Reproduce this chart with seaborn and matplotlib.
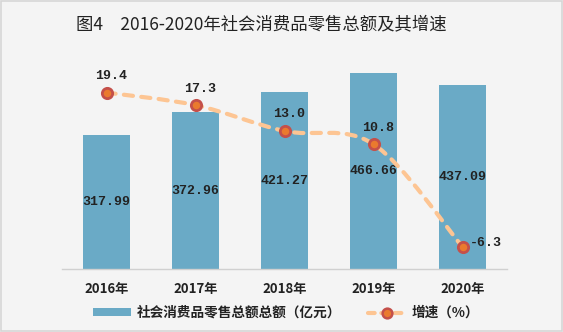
import numpy as np
import matplotlib
matplotlib.use("Agg")
import matplotlib.pyplot as plt
from matplotlib.path import Path
from matplotlib.patches import PathPatch, Patch, Rectangle
from matplotlib.lines import Line2D
import seaborn as sns

# ---- data ----
years = ["2016年", "2017年", "2018年", "2019年", "2020年"]
sales = [317.99, 372.96, 421.27, 466.66, 437.09]
growth = [19.4, 17.3, 13.0, 10.8, -6.3]
title = "图4　2016-2020年社会消费品零售总额及其增速"
bar_label = "社会消费品零售总额总额（亿元）"
line_label = "增速（%）"

sns.set_theme(style="white")
plt.rcParams["font.family"] = ["Noto Sans CJK SC", "DejaVu Sans"]

BG = "#f4f4f4"
BAR = "#6aaac6"
LINE = "#fdc593"
MFACE = "#ea7a2e"
MEDGE = "#c4504a"
TXT = "#222222"

fig = plt.figure(figsize=(5.63, 3.32), dpi=100)
fig.patch.set_facecolor(BG)
fig.patches.append(Rectangle((0.002, 0.003), 0.996, 0.994, transform=fig.transFigure,
                             fill=False, edgecolor="#d6d6d6", linewidth=1.2))

ax = fig.add_axes([62 / 563, 1 - 269 / 332, 445 / 563, 210 / 332])
ax.set_facecolor(BG)
sns.barplot(x=years, y=sales, ax=ax, color=BAR, width=0.52, saturation=1,
            edgecolor="none", linewidth=0)
ax.set_ylim(0, 500)
ax.set_xlim(-0.5, 4.5)
ax.set_xlabel("")
ax.set_ylabel("")
ax.set_yticks([])
for s in ["top", "left", "right"]:
    ax.spines[s].set_visible(False)
ax.spines["bottom"].set_color("#d0d0d0")
ax.spines["bottom"].set_linewidth(1.0)
ax.tick_params(axis="x", length=0, pad=9)
for lab in ax.get_xticklabels():
    lab.set_fontsize(9.5)
    lab.set_fontweight("bold")
    lab.set_color(TXT)

for i, v in enumerate(sales):
    ax.text(i, v / 2, f"{v:.2f}", ha="center", va="center", fontsize=9.5,
            fontweight="bold", family=["Liberation Mono", "DejaVu Sans Mono"], color=TXT)

# ---- growth line (smoothed, Catmull-Rom via Bezier) ----
ax2 = ax.twinx()
ax2.set_ylim(-10, 25)
ax2.set_yticks([])
for s in ax2.spines.values():
    s.set_visible(False)

xs = np.arange(len(growth), dtype=float)
ys = np.array(growth, dtype=float)
pts = np.column_stack([xs, ys])
verts = [tuple(pts[0])]
codes = [Path.MOVETO]
n = len(pts)
for i in range(n - 1):
    p0 = pts[max(i - 1, 0)]
    p1 = pts[i]
    p2 = pts[i + 1]
    p3 = pts[min(i + 2, n - 1)]
    c1 = p1 + (p2 - p0) / 6.0
    c2 = p2 - (p3 - p1) / 6.0
    verts += [tuple(c1), tuple(c2), tuple(p2)]
    codes += [Path.CURVE4] * 3
patch = PathPatch(Path(verts, codes), facecolor="none", edgecolor=LINE, linewidth=3.0,
                  linestyle=(0, (2.2, 2.0)), capstyle="round", zorder=3)
ax2.add_patch(patch)

sns.scatterplot(x=xs, y=ys, ax=ax2, s=55, color=MFACE, edgecolor=MEDGE,
                linewidth=2.0, zorder=4, legend=False)

for i, v in enumerate(growth):
    if v < 0:
        ax2.annotate(f"{v:.1f}", (i, v), xytext=(5.5, 3), textcoords="offset points",
                     ha="left", va="center", fontsize=9.5, fontweight="bold",
                     family=["Liberation Mono", "DejaVu Sans Mono"], color=TXT)
    else:
        ax2.annotate(f"{v:.1f}", (i, v), xytext=(3, 12), textcoords="offset points",
                     ha="center", va="center", fontsize=9.5, fontweight="bold",
                     family=["Liberation Mono", "DejaVu Sans Mono"], color=TXT)

# ---- title ----
fig.text(261 / 563, 1 - 24 / 332, title, ha="center", va="center", fontsize=12.5, color=TXT)

# ---- legend ----
handles = [
    Patch(facecolor=BAR, edgecolor="none"),
    Line2D([0], [0], color=LINE, linewidth=3.0, linestyle=(0, (1.6, 1.6)),
           marker="o", markersize=7, markerfacecolor=MFACE, markeredgecolor=MEDGE,
           markeredgewidth=1.8, dash_capstyle="round"),
]
leg = fig.legend(handles, [bar_label, line_label], loc="center",
                 bbox_to_anchor=(286 / 563, 1 - 313 / 332), ncol=2, frameon=False,
                 handlelength=2.8, handleheight=0.5, handletextpad=0.4, columnspacing=2.0,
                 prop={"family": ["Noto Sans CJK SC", "DejaVu Sans"], "size": 9.8, "weight": "bold"})
for t in leg.get_texts():
    t.set_color(TXT)

fig.savefig("out.png", dpi=100, facecolor=BG)
